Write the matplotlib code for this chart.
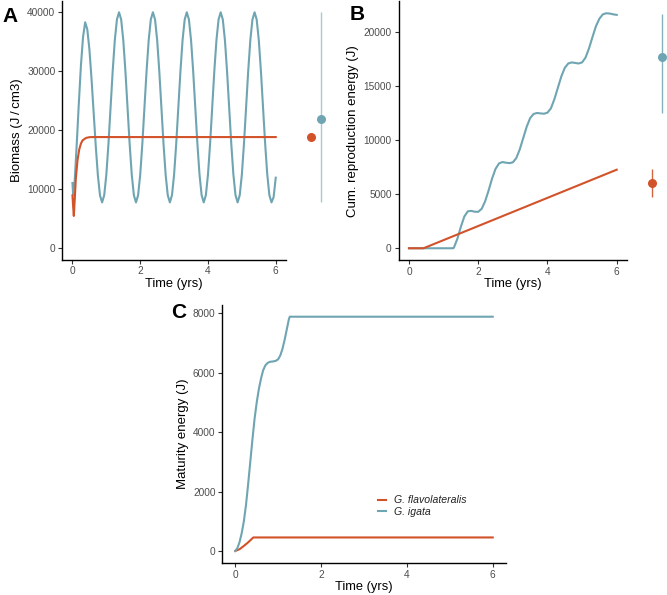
import matplotlib
matplotlib.use('Agg')
import matplotlib.pyplot as plt

plt.rcParams['font.family'] = ['Liberation Sans', 'DejaVu Sans']

# colours for the two species
orange = '#D2522A'
blue = '#6FA5B2'
species = ['G. flavolateralis', 'G. igata']

# panel A: biomass over time
a_blue_t = [0, 0.02, 0.0625, 0.125, 0.1875, 0.25, 0.3125, 0.375, 0.4375, 0.5, 0.5625,
            0.625, 0.6875, 0.75, 0.8125, 0.875, 0.9375, 1.0, 1.0625, 1.125, 1.1875,
            1.25, 1.3125, 1.375, 1.4375, 1.5, 1.5625, 1.625, 1.6875, 1.75, 1.8125,
            1.875, 1.9375, 2.0, 2.0625, 2.125, 2.1875, 2.25, 2.3125, 2.375, 2.4375,
            2.5, 2.5625, 2.625, 2.6875, 2.75, 2.8125, 2.875, 2.9375, 3.0, 3.0625,
            3.125, 3.1875, 3.25, 3.3125, 3.375, 3.4375, 3.5, 3.5625, 3.625, 3.6875,
            3.75, 3.8125, 3.875, 3.9375, 4.0, 4.0625, 4.125, 4.1875, 4.25, 4.3125,
            4.375, 4.4375, 4.5, 4.5625, 4.625, 4.6875, 4.75, 4.8125, 4.875, 4.9375,
            5.0, 5.0625, 5.125, 5.1875, 5.25, 5.3125, 5.375, 5.4375, 5.5, 5.5625,
            5.625, 5.6875, 5.75, 5.8125, 5.875, 5.9375, 6.0]
a_blue_v = [11000, 9000, 11000, 17500, 24500, 31000, 35800, 38300, 37100, 33700, 28700,
            23000, 17300, 12300, 8900, 7700, 8930, 12430, 17670, 23850, 30030,
            35270, 38770, 40000, 38770, 35270, 30030, 23850, 17670, 12430, 8930,
            7700, 8930, 12430, 17670, 23850, 30030, 35270, 38770, 40000, 38770,
            35270, 30030, 23850, 17670, 12430, 8930, 7700, 8930, 12430, 17670,
            23850, 30030, 35270, 38770, 40000, 38770, 35270, 30030, 23850, 17670,
            12430, 8930, 7700, 8930, 12430, 17670, 23850, 30030, 35270, 38770,
            40000, 38770, 35270, 30030, 23850, 17670, 12430, 8930, 7700, 8930,
            12430, 17670, 23850, 30030, 35270, 38770, 40000, 38770, 35270, 30030,
            23850, 17670, 12430, 8930, 7700, 8600, 11900]
a_orange_t = [0, 0.02, 0.04, 0.07, 0.1, 0.15, 0.2, 0.25, 0.3, 0.4, 0.5, 0.6, 6.0]
a_orange_v = [8900, 7000, 5400, 8500, 11800, 14900, 16700, 17700, 18250, 18650, 18780, 18800, 18800]
a_obs = [18800, 21800]
a_obs_lo = [18800, 7700]
a_obs_hi = [18800, 40000]

# panel B: cumulative reproduction energy
b_blue_t = [0, 1.28, 1.3, 1.4, 1.5, 1.6, 1.7, 1.8, 1.9, 2.0, 2.1, 2.2, 2.3, 2.4, 2.5,
            2.6, 2.7, 2.8, 2.9, 3.0, 3.1, 3.2, 3.3, 3.4, 3.5, 3.6, 3.7, 3.8, 3.9,
            4.0, 4.1, 4.2, 4.3, 4.4, 4.5, 4.6, 4.7, 4.8, 4.9, 5.0, 5.1, 5.2, 5.3,
            5.4, 5.5, 5.6, 5.7, 5.8, 5.9, 6.0]
b_blue_v = [0, 0, 80, 900, 2000, 2950, 3420, 3460, 3380, 3370, 3650, 4350, 5350, 6450, 7350,
            7850, 7980, 7920, 7880, 7950, 8350, 9150, 10200, 11250, 12050, 12430, 12520, 12480, 12450,
            12550, 12950, 13800, 14850, 15900, 16700, 17100, 17200, 17150, 17100, 17200, 17650, 18500, 19550,
            20550, 21250, 21650, 21750, 21720, 21650, 21600]
b_orange_t = [0, 0.42, 6.0]
b_orange_v = [0, 0, 7270]
b_obs = [6000, 17700]
b_obs_lo = [4750, 12550]
b_obs_hi = [7300, 21700]

# panel C: maturity energy
c_blue_t = [0, 0.05, 0.1, 0.15, 0.2, 0.25, 0.3, 0.35, 0.4, 0.45, 0.5, 0.55, 0.6, 0.65,
            0.7, 0.75, 0.8, 0.85, 0.9, 0.95, 1.0, 1.05, 1.1, 1.15, 1.2, 1.25, 1.27, 6.0]
c_blue_v = [0, 100, 300, 600, 1000, 1550, 2250, 3000, 3750, 4450, 5000, 5450, 5800, 6080,
            6240, 6320, 6360, 6370, 6380, 6400, 6450, 6580, 6800, 7100, 7450, 7800, 7880, 7880]
c_orange_t = [0, 0.1, 0.2, 0.3, 0.42, 6.0]
c_orange_v = [0, 60, 170, 290, 455, 455]

W, H = 667, 595
fig = plt.figure(figsize=(W / 100, H / 100), dpi=100)


def px_axes(left, top, right, bottom):
    return fig.add_axes([left / W, 1 - bottom / H, (right - left) / W, (bottom - top) / H])


def style(ax, ylabel):
    for s in ['top', 'right']:
        ax.spines[s].set_visible(False)
    for s in ['left', 'bottom']:
        ax.spines[s].set_linewidth(1.0)
        ax.spines[s].set_color('black')
    ax.tick_params(length=3, width=0.8, color='#333333', labelcolor='#4D4D4D', labelsize=7.3, pad=2)
    ax.set_xlabel('Time (yrs)', fontsize=9.3, labelpad=1)
    ax.set_ylabel(ylabel, fontsize=9.5, labelpad=3)
    ax.set_xlim(-0.3, 6.3)
    ax.set_xticks([0, 2, 4, 6])


def side(ax_main, top, bottom, left, obs, lo, hi, alpha_b):
    # observed mean and range, drawn next to the model panel on the same y scale
    sa = px_axes(left, top, left + 32, bottom)
    sa.sharey(ax_main)
    sa.set_xlim(0, 3)
    sa.axis('off')
    cols = [orange, blue]
    alphas = [0.9, alpha_b]
    for i in range(2):
        sa.plot([i + 1, i + 1], [lo[i], hi[i]], color=cols[i], lw=1.0, alpha=alphas[i],
                solid_capstyle='butt')
        sa.plot(i + 1, obs[i], 'o', color=cols[i], ms=6.5, mec='none')
    return sa


# A
axA = px_axes(62.3, 0.5, 285.9, 259.5)
axA.plot(a_blue_t, a_blue_v, color=blue, lw=1.5)
axA.plot(a_orange_t, a_orange_v, color=orange, lw=1.5)
style(axA, 'Biomass (J\u2009/\u2009cm3)')
axA.set_ylim(-2000, 42000)
axA.set_yticks([0, 10000, 20000, 30000, 40000])
side(axA, 0.5, 259.5, 300, a_obs, a_obs_lo, a_obs_hi, 0.6)
fig.text(2 / W, 1 - 17 / H, 'A', fontsize=15, fontweight='bold', va='center', ha='left')

# B
axB = px_axes(398.6, 1.5, 627.1, 260)
axB.plot(b_blue_t, b_blue_v, color=blue, lw=1.5)
axB.plot(b_orange_t, b_orange_v, color=orange, lw=1.5)
style(axB, 'Cum. reproduction energy (J)')
axB.set_ylim(-1087, 22837)
axB.set_yticks([0, 5000, 10000, 15000, 20000])
side(axB, 1.5, 260, 641, b_obs, b_obs_lo, b_obs_hi, 0.85)
fig.text(350 / W, 1 - 15 / H, 'B', fontsize=15, fontweight='bold', va='center', ha='left')

# C
axC = px_axes(222.4, 305, 505.6, 562.7)
axC.plot(c_orange_t, c_orange_v, color=orange, lw=1.5, label=species[0])
axC.plot(c_blue_t, c_blue_v, color=blue, lw=1.5, label=species[1])
style(axC, 'Maturity energy (J)')
axC.set_ylim(-394, 8274)
axC.set_yticks([0, 2000, 4000, 6000, 8000])
fig.text(171 / W, 1 - 313 / H, 'C', fontsize=15, fontweight='bold', va='center', ha='left')

leg = axC.legend(loc='center left', bbox_to_anchor=(378 / W, 1 - 506 / H),
                 bbox_transform=fig.transFigure, frameon=False, handlelength=0.75,
                 handletextpad=0.8, labelspacing=0.1, borderpad=0, borderaxespad=0,
                 prop={'size': 7.6, 'style': 'italic'})
for t in leg.get_texts():
    t.set_color('#222222')

plt.savefig('out.png', dpi=100)
